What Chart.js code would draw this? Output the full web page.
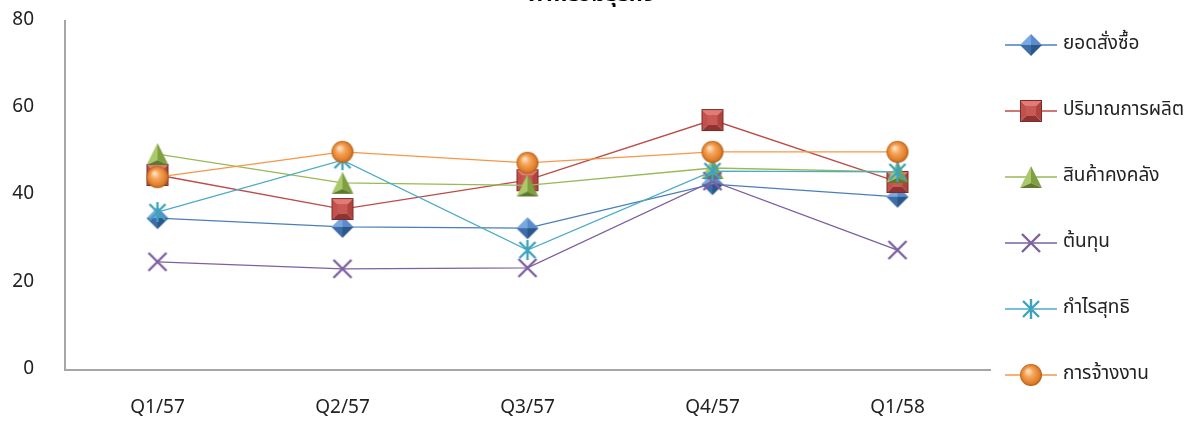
<!DOCTYPE html>
<html lang="th">
<head>
    <meta charset="UTF-8">
    <title>ภาพรวมธุรกิจ</title>
    <script src="https://cdn.jsdelivr.net/npm/chart.js"></script>
    <style>
        html, body {
            margin: 0;
            padding: 0;
            background: #ffffff;
        }
        .chart-box {
            width: 1195px;
            height: 425px;
            position: relative;
        }
    </style>
</head>
<body>
    <div class="chart-box">
        <canvas id="trendChart"></canvas>
    </div>
    <script>
        const chartTitle = "ภาพรวมธุรกิจ";
        const quarters = ["Q1/57", "Q2/57", "Q3/57", "Q4/57", "Q1/58"];
        const yTicks = [0, 20, 40, 60, 80];

        const seriesNames = ["ยอดสั่งซื้อ", "ปริมาณการผลิต", "สินค้าคงคลัง", "ต้นทุน", "กำไรสุทธิ", "การจ้างงาน"];
        const orders     = [34.8, 32.8, 32.5, 42.6, 39.7];
        const production = [44.7, 36.9, 43.5, 57.3, 43.1];
        const inventory  = [49.5, 42.9, 42.3, 46.3, 45.4];
        const costs      = [24.8, 23.2, 23.4, 43.3, 27.5];
        const netProfit  = [36.2, 48.1, 27.5, 45.6, 45.4];
        const employment = [44.2, 50.0, 47.5, 50.0, 50.0];

        const lineColors = ["#4a7ebb", "#be4b48", "#98b954", "#7d60a0", "#4bacc6", "#f79646"];
        const markerKinds = ["diamond", "square", "triangle", "cross", "star", "circle"];

        const FONT = "'Noto Sans Thai', 'Noto Sans Thai UI', Tahoma, 'Noto Sans', sans-serif";

        // little 3d-ish markers like the office chart
        function poly(ctx, pts, fill) {
            ctx.beginPath();
            ctx.moveTo(pts[0][0], pts[0][1]);
            for (let i = 1; i < pts.length; i++) ctx.lineTo(pts[i][0], pts[i][1]);
            ctx.closePath();
            ctx.fillStyle = fill;
            ctx.fill();
        }

        function makeMarker(kind) {
            const S = 24, c = 12;
            const cv = document.createElement("canvas");
            cv.width = S;
            cv.height = S;
            const ctx = cv.getContext("2d");
            if (kind === "diamond") {
                const h = 11;
                poly(ctx, [[c, c - h], [c - h, c], [c, c]], "#79a7e0");
                poly(ctx, [[c, c - h], [c + h, c], [c, c]], "#5a8ccd");
                poly(ctx, [[c - h, c], [c, c + h], [c, c]], "#3d6ca8");
                poly(ctx, [[c + h, c], [c, c + h], [c, c]], "#2c5789");
            } else if (kind === "square") {
                const a = 1, b = 23, m = 6;
                poly(ctx, [[a, a], [b, a], [b - m, a + m], [a + m, a + m]], "#e27a76");
                poly(ctx, [[a, a], [a + m, a + m], [a + m, b - m], [a, b]], "#c4504c");
                poly(ctx, [[b, a], [b, b], [b - m, b - m], [b - m, a + m]], "#b1433f");
                poly(ctx, [[a, b], [a + m, b - m], [b - m, b - m], [b, b]], "#8e3330");
                poly(ctx, [[a + m, a + m], [b - m, a + m], [b - m, b - m], [a + m, b - m]], "#c85a56");
                ctx.strokeStyle = "#7a2c29";
                ctx.lineWidth = 1;
                ctx.strokeRect(a + 0.5, a + 0.5, b - a - 1, b - a - 1);
            } else if (kind === "triangle") {
                poly(ctx, [[c, 1], [1, 23], [c, 18]], "#a9c96b");
                poly(ctx, [[c, 1], [c, 18], [23, 23]], "#7f9f40");
                poly(ctx, [[1, 23], [c, 18], [23, 23]], "#5e7a2d");
            } else if (kind === "circle") {
                const g = ctx.createRadialGradient(c - 3, c - 4, 1, c, c, 11);
                g.addColorStop(0, "#fde0bf");
                g.addColorStop(0.35, "#f7a55c");
                g.addColorStop(0.8, "#e0802c");
                g.addColorStop(1, "#b35d18");
                ctx.beginPath();
                ctx.arc(c, c, 11, 0, Math.PI * 2);
                ctx.fillStyle = g;
                ctx.fill();
            } else if (kind === "cross") {
                ctx.strokeStyle = "#7d60a0";
                ctx.lineWidth = 2.4;
                ctx.beginPath();
                ctx.moveTo(3, 3); ctx.lineTo(21, 21);
                ctx.moveTo(3, 21); ctx.lineTo(21, 3);
                ctx.stroke();
            } else if (kind === "star") {
                ctx.strokeStyle = "#3fa3bf";
                ctx.lineWidth = 2.4;
                ctx.beginPath();
                ctx.moveTo(4, 4); ctx.lineTo(20, 20);
                ctx.moveTo(4, 20); ctx.lineTo(20, 4);
                ctx.moveTo(c, 2); ctx.lineTo(c, 22);
                ctx.stroke();
            }
            return cv;
        }

        const markerImgs = markerKinds.map(makeMarker);
        const seriesData = [orders, production, inventory, costs, netProfit, employment];

        const datasets = seriesData.map((vals, i) => ({
            label: seriesNames[i],
            data: vals,
            borderColor: lineColors[i],
            backgroundColor: lineColors[i],
            borderWidth: 1.3,
            pointStyle: markerImgs[i],
            pointRadius: 11,
            pointHoverRadius: 11,
            tension: 0,
            fill: false,
            order: seriesData.length - i
        }));

        // legend down the right side + the clipped title on top
        const sideLegend = {
            id: "sideLegend",
            afterDraw(chart) {
                const ctx = chart.ctx;
                ctx.save();
                ctx.font = "bold 22px " + FONT;
                ctx.fillStyle = "#000";
                ctx.textAlign = "center";
                ctx.textBaseline = "alphabetic";
                ctx.fillText(chartTitle, 592, 1);

                ctx.font = "19px " + FONT;
                ctx.textAlign = "left";
                ctx.textBaseline = "middle";
                chart.data.datasets.forEach((ds, i) => {
                    const y = 45 + i * 66;
                    ctx.strokeStyle = ds.borderColor;
                    ctx.lineWidth = 1.3;
                    ctx.beginPath();
                    ctx.moveTo(1005, y);
                    ctx.lineTo(1057, y);
                    ctx.stroke();
                    const img = ds.pointStyle;
                    ctx.drawImage(img, 1031 - img.width / 2, y - img.height / 2);
                    ctx.fillStyle = "#222";
                    ctx.fillText(ds.label, 1063, y);
                });
                ctx.restore();
            }
        };

        new Chart(document.getElementById("trendChart"), {
            type: "line",
            data: { labels: quarters, datasets },
            plugins: [sideLegend],
            options: {
                responsive: true,
                maintainAspectRatio: false,
                animation: false,
                layout: { padding: { top: 21, right: 205, bottom: 0, left: 0 } },
                plugins: {
                    legend: { display: false },
                    title: { display: false },
                    tooltip: { enabled: false }
                },
                scales: {
                    x: {
                        offset: true,
                        grid: { display: false, drawTicks: false },
                        border: { display: true, color: "#a6a6a6", width: 2 },
                        ticks: {
                            padding: 28,
                            color: "#222",
                            font: { family: FONT, size: 19 }
                        },
                        afterFit(scale) {
                            scale.height = 55;
                            scale.paddingLeft = 0;
                            scale.paddingRight = 0;
                        }
                    },
                    y: {
                        min: 0,
                        max: 80,
                        afterBuildTicks(scale) {
                            scale.ticks = yTicks.map(v => ({ value: v }));
                        },
                        grid: { display: false, drawTicks: false },
                        border: { display: true, color: "#a6a6a6", width: 2 },
                        ticks: {
                            padding: 31,
                            color: "#222",
                            font: { family: FONT, size: 19 }
                        },
                        afterFit(scale) {
                            scale.width = 65;
                            scale.paddingTop = 0;
                            scale.paddingBottom = 0;
                        }
                    }
                }
            }
        });
    </script>
</body>
</html>
